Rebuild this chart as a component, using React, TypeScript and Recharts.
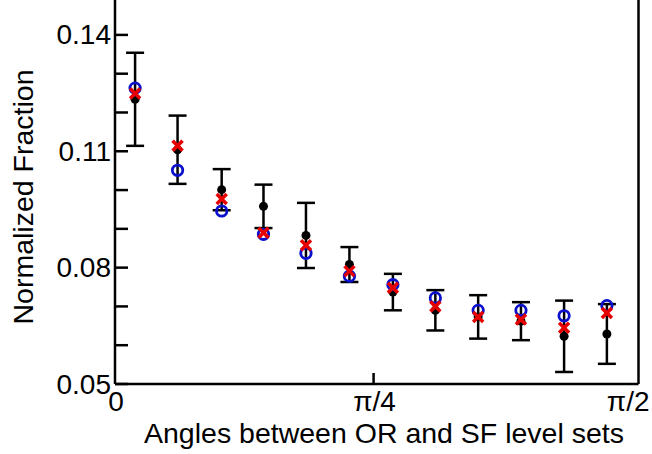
import React from 'react';
import { ScatterChart, Scatter, XAxis, YAxis, ErrorBar, ReferenceLine } from 'recharts';

// angle bin positions (radians)
const angles = [0.061, 0.19, 0.324, 0.451, 0.58, 0.712, 0.844, 0.973, 1.103, 1.233, 1.364, 1.494];
// black dots with error bars
const meanFraction = [0.1234, 0.1104, 0.1001, 0.0958, 0.0883, 0.0808, 0.0737, 0.069, 0.0673, 0.0662, 0.0623, 0.0629];
const meanError = [0.012, 0.0088, 0.0053, 0.0056, 0.0084, 0.0045, 0.0047, 0.0052, 0.0056, 0.0049, 0.0092, 0.0077];
// open blue circles
const circleFraction = [0.1263, 0.1051, 0.0946, 0.0886, 0.0837, 0.0778, 0.0756, 0.0722, 0.069, 0.069, 0.0676, 0.0702];
// red crosses
const crossFraction = [0.1249, 0.1114, 0.0977, 0.089, 0.0858, 0.0791, 0.0748, 0.07, 0.0673, 0.0666, 0.0645, 0.0683];

const xTicks = [0, Math.PI / 4, Math.PI / 2];
const xTickLabels = ['0', 'π/4', 'π/2'];
const yTicks = [0.05, 0.06, 0.07, 0.08, 0.09, 0.1, 0.11, 0.12, 0.13, 0.14];
const yTickLabels = ['0.05', '0.08', '0.11', '0.14'];

const X_MAX = 1.59;
const FONT = '"Liberation Sans", Arial, sans-serif';
const FS = 28;
const TITLE_FS = 28.5;

const meanRows = angles.map((x, i) => ({ x, y: meanFraction[i], err: meanError[i] }));
const circleRows = angles.map((x, i) => ({ x, y: circleFraction[i] }));
const crossRows = angles.map((x, i) => ({ x, y: crossFraction[i] }));

const XTick = (props: any) => {
  const { x, y, index } = props;
  return (
    <g>
      {index === 1 && <line x1={x} x2={x} y1={y} y2={y - 11} stroke="#000" strokeWidth={2.5} />}
      <text x={x} dx={index === 2 ? -4 : 1} y={y + 17} textAnchor="middle" dominantBaseline="central" fontSize={FS} fontFamily={FONT} fill="#000">
        {xTickLabels[index]}
      </text>
    </g>
  );
};

const YTick = (props: any) => {
  const { x, y, payload } = props;
  const label = Number(payload.value).toFixed(2);
  return (
    <g>
      <line x1={x} x2={x + 13} y1={y} y2={y} stroke="#000" strokeWidth={2.5} />
      {yTickLabels.includes(label) && (
        <text x={x - 4} y={y} textAnchor="end" dominantBaseline="central" fontSize={FS} fontFamily={FONT} fill="#000">
          {label}
        </text>
      )}
    </g>
  );
};

const Dot = (p: any) => <circle cx={p.cx} cy={p.cy} r={4.5} fill="#000" />;
const OpenCircle = (p: any) => <circle cx={p.cx} cy={p.cy} r={5.2} fill="none" stroke="#0a10cc" strokeWidth={2.8} />;
const Cross = (p: any) => (
  <g stroke="#e60000" strokeWidth={3.5}>
    <line x1={p.cx - 5} y1={p.cy - 5} x2={p.cx + 5} y2={p.cy + 5} />
    <line x1={p.cx - 5} y1={p.cy + 5} x2={p.cx + 5} y2={p.cy - 5} />
  </g>
);

export default function App() {
  return (
    <div style={{ position: 'absolute', left: 0, top: 0, width: 652, height: 454, background: '#fff' }}>
      <ScatterChart width={652} height={454} margin={{ top: 0, right: 13.5, bottom: 0, left: 0 }}>
        <XAxis
          type="number"
          dataKey="x"
          domain={[0, X_MAX]}
          ticks={xTicks}
          interval={0}
          tick={<XTick />}
          tickLine={false}
          tickSize={0}
          tickMargin={0}
          height={70}
          axisLine={{ stroke: '#000', strokeWidth: 2.5 }}
          allowDataOverflow
        />
        <YAxis
          type="number"
          dataKey="y"
          domain={[0.05, 0.149]}
          ticks={yTicks}
          interval={0}
          tick={<YTick />}
          tickLine={false}
          tickSize={0}
          tickMargin={0}
          width={115}
          axisLine={{ stroke: '#000', strokeWidth: 2.5 }}
          allowDataOverflow
        />
        <ReferenceLine x={X_MAX} stroke="#000" strokeWidth={2.5} />
        <Scatter data={meanRows} shape={<Dot />} isAnimationActive={false}>
          <ErrorBar dataKey="err" direction="y" width={9} stroke="#000" strokeWidth={2.5} />
        </Scatter>
        <Scatter data={circleRows} shape={<OpenCircle />} isAnimationActive={false} />
        <Scatter data={crossRows} shape={<Cross />} isAnimationActive={false} />
      </ScatterChart>
      <svg width={652} height={454} style={{ position: 'absolute', left: 0, top: 0, pointerEvents: 'none' }}>
        <text x={384} y={443} textAnchor="middle" fontSize={TITLE_FS} fontFamily={FONT} fill="#000">
          Angles between OR and SF level sets
        </text>
        <text transform="translate(33,197) rotate(-90)" textAnchor="middle" fontSize={TITLE_FS} fontFamily={FONT} fill="#000">
          Normalized Fraction
        </text>
      </svg>
    </div>
  );
}
